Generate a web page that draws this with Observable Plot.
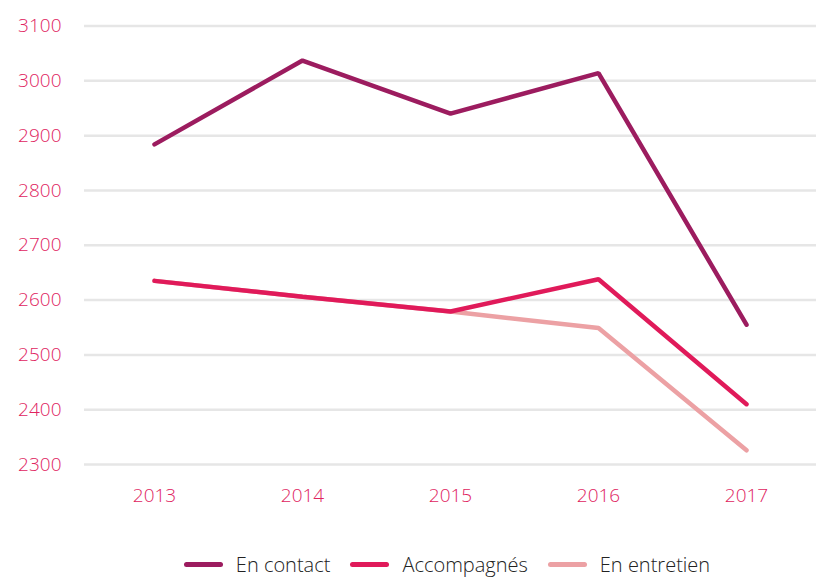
<!DOCTYPE html>
<html>
<head>
<meta charset="utf-8">
<script src="https://cdn.jsdelivr.net/npm/d3@7"></script>
<script src="https://cdn.jsdelivr.net/npm/@observablehq/plot@0.6"></script>
<style>
  body { margin: 0; background: #fff; font-family: "Open Sans", sans-serif; }
  #legend { display: flex; justify-content: center; align-items: center; height: 26px; padding-top: 31px; font-size: 20px; font-weight: 300; color: #222; margin-left: 78px; }
  .item { display: flex; align-items: center; margin: 0 10px; }
  .sw { width: 39px; height: 5px; border-radius: 3px; margin-right: 13px; }
  svg text { font-weight: 300; }
</style>
</head>
<body>
<div id="chart"></div>
<div id="legend"></div>
<script>
const years = ["2013", "2014", "2015", "2016", "2017"];
const seriesNames = ["En entretien", "Accompagnés", "En contact"];
const enContact = [2884, 3037, 2940, 3014, 2555];
const accompagnes = [2635, 2606, 2579, 2638, 2410];
const enEntretien = [2635, 2606, 2579, 2549, 2326];
const colors = {"En contact": "#9c1c5f", "Accompagnés": "#e01a5a", "En entretien": "#eca1a4"};
const legendOrder = ["En contact", "Accompagnés", "En entretien"];

const valuesBySeries = {"En contact": enContact, "Accompagnés": accompagnes, "En entretien": enEntretien};
const data = seriesNames.flatMap(s => years.map((y, i) => ({series: s, year: y, value: valuesBySeries[s][i]})));

const chart = Plot.plot({
  width: 816,
  height: 520,
  marginTop: 25.5,
  marginBottom: 56,
  marginLeft: 84,
  marginRight: 0,
  style: {fontFamily: "Open Sans, sans-serif", fontSize: "19px", color: "#e0245f"},
  x: {type: "point", domain: years, padding: 0.47, label: null, tickSize: 0, tickPadding: 24},
  y: {domain: [2300, 3100], ticks: d3.range(2300, 3101, 100), label: null, tickSize: 0, tickPadding: 22, tickFormat: d => String(d)},
  marks: [
    Plot.ruleY(d3.range(2300, 3101, 100), {stroke: "#e6e6e6", strokeWidth: 2.5}),
    Plot.axisY({ticks: d3.range(2300, 3101, 100), tickSize: 0, tickPadding: 23, tickFormat: d => String(d), fill: "#e0245f", fontSize: 19}),
    Plot.axisX({tickSize: 0, tickPadding: 24, fill: "#e0245f", fontSize: 19}),
    Plot.line(data, {x: "year", y: "value", z: "series", stroke: d => colors[d.series], strokeWidth: 4.5, strokeLinecap: "round", strokeLinejoin: "miter"})
  ]
});
document.getElementById("chart").appendChild(chart);

const legend = document.getElementById("legend");
legendOrder.forEach(s => {
  const it = document.createElement("div");
  it.className = "item";
  const sw = document.createElement("div");
  sw.className = "sw";
  sw.style.background = colors[s];
  const t = document.createElement("span");
  t.textContent = s;
  it.appendChild(sw); it.appendChild(t);
  legend.appendChild(it);
});
</script>
</body>
</html>
